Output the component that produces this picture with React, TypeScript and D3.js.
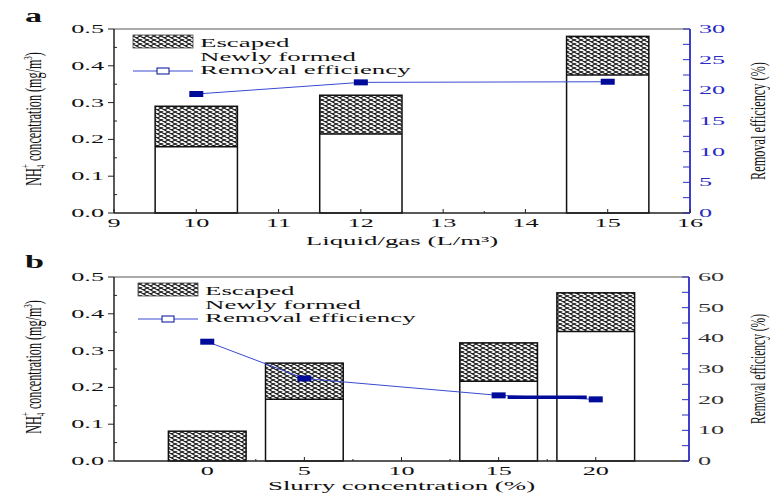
import React, { useEffect, useRef } from 'react';
import * as d3 from 'd3';

// panel a: liquid/gas ratio
const gasRatio = [10, 12, 15];
const gasNewly = [0.18, 0.215, 0.375];
const gasEscaped = [0.11, 0.105, 0.105];
const gasRemoval = [19.4, 21.3, 21.4];

// panel b: slurry concentration
const slurry = [0, 5, 15, 20];
const slurryNewly = [0, 0.168, 0.217, 0.352];
const slurryEscaped = [0.081, 0.098, 0.104, 0.105];
const slurryRemoval = [38.9, 26.9, 21.4, 20.1];

const leftTicks = [0, 0.1, 0.2, 0.3, 0.4, 0.5];
const gasTicks = [9, 10, 11, 12, 13, 14, 15, 16];
const gasRightTicks = [0, 5, 10, 15, 20, 25, 30];
const slurryTicks = [0, 5, 10, 15, 20];
const slurryRightTicks = [0, 10, 20, 30, 40, 50, 60];
const legendLabels = ['Escaped', 'Newly formed', 'Removal efficiency'];

const FONT = '"Liberation Serif", "Times New Roman", serif';
const BLUE = '#2b2bc4';
const NAVY = '#000c99';
const SX = 2.1;

function wide(g, x, y, str, anchor = 'start', size = 12.5, fill = '#111', sx = SX) {
  return g.append('text')
    .attr('transform', `translate(${x},${y}) scale(${sx},1)`)
    .attr('text-anchor', anchor)
    .attr('font-family', FONT)
    .attr('font-size', size)
    .attr('fill', fill)
    .text(str);
}

// squeeze a rotated label so it spans `len` pixels
function squeeze(t, x, y, len) {
  const natural = t.node().getComputedTextLength() || len;
  t.attr('transform', `translate(${x},${y}) rotate(-90) scale(${len / natural},1)`);
}

function drawPanel(svg, p) {
  const g = svg.append('g');
  const x = d3.scaleLinear().domain(p.xDomain).range([p.left, p.right]);
  const y = d3.scaleLinear().domain([0, 0.5]).range([p.bottom, p.top]);
  const yr = d3.scaleLinear().domain([0, p.rightTicks[p.rightTicks.length - 1]]).range([p.bottom, p.top]);

  // bars
  p.xs.forEach((xv, i) => {
    const x0 = x(xv - p.barWidth / 2);
    const w = x(xv + p.barWidth / 2) - x0;
    const n = p.newly[i];
    const tot = n + p.escaped[i];
    g.append('rect').attr('x', x0).attr('y', y(n)).attr('width', w).attr('height', y(0) - y(n))
      .attr('fill', 'white');
    g.append('rect').attr('x', x0).attr('y', y(tot)).attr('width', w).attr('height', y(n) - y(tot))
      .attr('fill', 'url(#hatch)');
    g.append('rect').attr('x', x0).attr('y', y(tot)).attr('width', w).attr('height', y(0) - y(tot))
      .attr('fill', 'none').attr('stroke', '#111').attr('stroke-width', 1.5);
    if (n > 0) {
      g.append('line').attr('x1', x0).attr('x2', x0 + w).attr('y1', y(n)).attr('y2', y(n))
        .attr('stroke', '#111').attr('stroke-width', 1.5);
    }
  });

  // frame
  g.append('line').attr('x1', p.left).attr('x2', p.right).attr('y1', p.top).attr('y2', p.top)
    .attr('stroke', '#555').attr('stroke-width', 1);
  g.append('line').attr('x1', p.left).attr('x2', p.left).attr('y1', p.top).attr('y2', p.bottom)
    .attr('stroke', '#222').attr('stroke-width', 1.5);
  g.append('line').attr('x1', p.left).attr('x2', p.right).attr('y1', p.bottom).attr('y2', p.bottom)
    .attr('stroke', '#222').attr('stroke-width', 1.5);
  g.append('line').attr('x1', p.right).attr('x2', p.right).attr('y1', p.top).attr('y2', p.bottom)
    .attr('stroke', BLUE).attr('stroke-width', 1.8);

  // left axis ticks
  leftTicks.forEach(t => {
    g.append('line').attr('x1', p.left - 6).attr('x2', p.left).attr('y1', y(t)).attr('y2', y(t))
      .attr('stroke', '#222');
    wide(g, p.left - 10, y(t) + 4, t.toFixed(1), 'end');
  });
  leftTicks.slice(0, -1).forEach(t => {
    g.append('line').attr('x1', p.left).attr('x2', p.left + 3).attr('y1', y(t + 0.05)).attr('y2', y(t + 0.05))
      .attr('stroke', '#222');
  });

  // bottom axis ticks
  p.xTicks.forEach((t, i) => {
    g.append('line').attr('x1', x(t)).attr('x2', x(t)).attr('y1', p.bottom).attr('y2', p.bottom - 4)
      .attr('stroke', '#222');
    wide(g, x(t), p.tickLabelY, String(t), 'middle');
    if (i < p.xTicks.length - 1) {
      const m = (t + p.xTicks[i + 1]) / 2;
      g.append('line').attr('x1', x(m)).attr('x2', x(m)).attr('y1', p.bottom).attr('y2', p.bottom - 2)
        .attr('stroke', '#222');
    }
  });

  // right axis ticks
  const rStep = p.rightTicks[1] - p.rightTicks[0];
  p.rightTicks.forEach((t, i) => {
    g.append('line').attr('x1', p.right - 7).attr('x2', p.right).attr('y1', yr(t)).attr('y2', yr(t))
      .attr('stroke', BLUE);
    wide(g, p.right + 9, yr(t) + 4, String(t), 'start', 12.5, p.rightLabelColor);
    if (i < p.rightTicks.length - 1) {
      const m = t + rStep / 2;
      g.append('line').attr('x1', p.right - 7).attr('x2', p.right).attr('y1', yr(m)).attr('y2', yr(m))
        .attr('stroke', BLUE);
    }
  });

  // removal efficiency line
  const pts = p.xs.map((xv, i) => [x(xv), yr(p.removal[i])]);
  g.append('path').attr('d', d3.line()(pts)).attr('fill', 'none').attr('stroke', '#3a4ad0').attr('stroke-width', 1);
  if (p.thickLast) {
    const a = pts[pts.length - 2], b = pts[pts.length - 1];
    const ym = (a[1] + b[1]) / 2;
    g.append('line').attr('x1', a[0] + 9).attr('x2', b[0] - 9).attr('y1', ym).attr('y2', ym)
      .attr('stroke', NAVY).attr('stroke-width', 3.5);
  }
  pts.forEach(([px, py]) => {
    g.append('rect').attr('x', px - 7).attr('y', py - 3).attr('width', 14).attr('height', 6).attr('fill', NAVY);
  });

  // legend
  const lx = p.left + p.legendDx;
  const ly = p.top + p.legendDy;
  g.append('rect').attr('x', lx).attr('y', ly).attr('width', 60).attr('height', 13)
    .attr('fill', 'url(#hatch)').attr('stroke', '#444').attr('stroke-width', 0.8);
  g.append('line').attr('x1', lx).attr('x2', lx + 60).attr('y1', ly + 36).attr('y2', ly + 36)
    .attr('stroke', '#3a4ad0').attr('stroke-width', 1.2);
  g.append('rect').attr('x', lx + 24).attr('y', ly + 33).attr('width', 12).attr('height', 6)
    .attr('fill', 'white').attr('stroke', NAVY).attr('stroke-width', 1);
  legendLabels.forEach((s, i) => {
    wide(g, lx + 67, ly + 12 + i * 13.5, s, 'start', 12.8);
  });

  // panel letter
  g.append('text')
    .attr('transform', `translate(25,${p.letterY}) scale(1.9,1)`)
    .attr('font-family', FONT).attr('font-weight', 'bold').attr('font-size', 18).attr('fill', '#111')
    .text(p.letter);

  // x label
  wide(g, (p.left + p.right) / 2, p.xLabelY, p.xLabel, 'middle', 12.8);

  // left y label
  const cy = (p.top + p.bottom) / 2 - 2;
  const yl = g.append('text')
    .attr('text-anchor', 'middle')
    .attr('font-family', FONT).attr('font-size', 23).attr('fill', '#111');
  yl.append('tspan').text('NH');
  yl.append('tspan').attr('font-size', 13).attr('dy', 4).text('4');
  yl.append('tspan').attr('font-size', 13).attr('dx', -6).attr('dy', -15).text('+');
  yl.append('tspan').attr('dy', 11).text(' concentration (mg/m');
  yl.append('tspan').attr('font-size', 13).attr('dy', -9).text('3');
  yl.append('tspan').attr('dy', 9).text(')');
  squeeze(yl, 41, cy, 137);

  // right y label
  const yrl = g.append('text')
    .attr('text-anchor', 'middle')
    .attr('font-family', FONT).attr('font-size', 22).attr('fill', '#111')
    .text('Removal efficiency (%)');
  squeeze(yrl, 765, (p.top + p.bottom) / 2, p.rightLabelLen);
}

export default function App() {
  const svgRef = useRef(null);

  useEffect(() => {
    const svg = d3.select(svgRef.current);
    svg.selectAll('*').remove();

    const defs = svg.append('defs');
    const pat = defs.append('pattern').attr('id', 'hatch')
      .attr('patternUnits', 'userSpaceOnUse').attr('width', 7).attr('height', 4);
    pat.append('rect').attr('width', 7).attr('height', 4).attr('fill', 'white');
    pat.append('path').attr('d', 'M0,0 L7,4 M0,4 L7,0')
      .attr('stroke', '#222').attr('stroke-width', 1.1).attr('fill', 'none');

    drawPanel(svg, {
      letter: 'a', letterY: 22,
      top: 29, bottom: 213, left: 114, right: 690,
      xDomain: [9, 16], xTicks: gasTicks, barWidth: 1,
      xs: gasRatio, newly: gasNewly, escaped: gasEscaped, removal: gasRemoval,
      rightTicks: gasRightTicks, rightLabelColor: BLUE, rightLabelLen: 118,
      tickLabelY: 227, xLabel: 'Liquid/gas (L/m³)', xLabelY: 245,
      legendDx: 19, legendDy: 6, thickLast: false,
    });

    drawPanel(svg, {
      letter: 'b', letterY: 268,
      top: 277, bottom: 461, left: 114, right: 689,
      xDomain: [-4.8, 24.8], xTicks: slurryTicks, barWidth: 4,
      xs: slurry, newly: slurryNewly, escaped: slurryEscaped, removal: slurryRemoval,
      rightTicks: slurryRightTicks, rightLabelColor: '#333', rightLabelLen: 110,
      tickLabelY: 475, xLabel: 'Slurry concentration (%)', xLabelY: 490,
      legendDx: 24, legendDy: 6, thickLast: true,
    });
  }, []);

  return (
    <svg ref={svgRef} width={770} height={493}
      style={{ position: 'absolute', left: 0, top: 0, background: 'white' }} />
  );
}
